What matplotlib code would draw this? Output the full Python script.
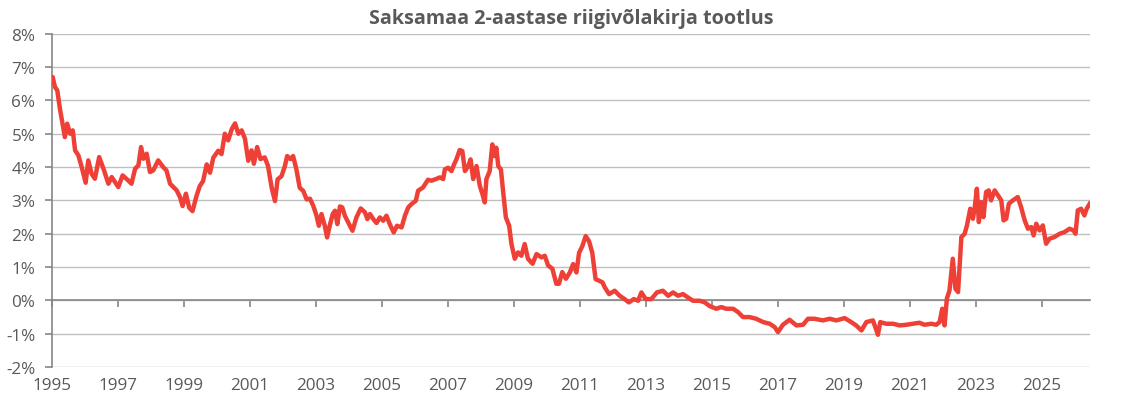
import matplotlib
matplotlib.use("Agg")
import matplotlib.pyplot as plt
from matplotlib.ticker import FuncFormatter

title = "Saksamaa 2-aastase riigivõlakirja tootlus"

years = [
    1995.00, 1995.02, 1995.09, 1995.16, 1995.24, 1995.39, 1995.46, 1995.55, 1995.63, 1995.70,
    1995.80, 1995.90, 1996.02, 1996.10, 1996.20, 1996.30, 1996.43, 1996.56, 1996.71, 1996.81,
    1997.01, 1997.14, 1997.31, 1997.41, 1997.52, 1997.62, 1997.70, 1997.77, 1997.87, 1997.97,
    1998.07, 1998.22, 1998.37, 1998.47, 1998.58, 1998.68, 1998.78, 1998.88, 1998.96, 1999.06,
    1999.16, 1999.26, 1999.38, 1999.48, 1999.58, 1999.69, 1999.79, 1999.89, 2000.04, 2000.14,
    2000.24, 2000.34, 2000.45, 2000.55, 2000.65, 2000.75, 2000.85, 2000.95, 2001.05, 2001.12,
    2001.22, 2001.32, 2001.45, 2001.55, 2001.66, 2001.76, 2001.84, 2001.96, 2002.06, 2002.13,
    2002.23, 2002.31, 2002.41, 2002.51, 2002.62, 2002.72, 2002.82, 2002.92, 2003.02, 2003.09,
    2003.17, 2003.27, 2003.34, 2003.42, 2003.51, 2003.58, 2003.65, 2003.73, 2003.80, 2003.88,
    2003.98, 2004.11, 2004.23, 2004.36, 2004.49, 2004.56, 2004.64, 2004.74, 2004.84, 2004.94,
    2005.04, 2005.14, 2005.24, 2005.36, 2005.46, 2005.60, 2005.70, 2005.80, 2005.90, 2006.03,
    2006.10, 2006.25, 2006.35, 2006.40, 2006.50, 2006.64, 2006.76, 2006.86, 2006.91, 2007.01,
    2007.11, 2007.19, 2007.26, 2007.36, 2007.44, 2007.52, 2007.62, 2007.69, 2007.77, 2007.87,
    2007.97, 2008.05, 2008.12, 2008.17, 2008.27, 2008.35, 2008.42, 2008.47, 2008.53, 2008.61,
    2008.68, 2008.76, 2008.86, 2008.93, 2009.03, 2009.13, 2009.23, 2009.33, 2009.43, 2009.57,
    2009.69, 2009.84, 2009.94, 2010.04, 2010.17, 2010.29, 2010.37, 2010.47, 2010.58, 2010.70,
    2010.80, 2010.90, 2010.98, 2011.08, 2011.18, 2011.28, 2011.38, 2011.48, 2011.59, 2011.69,
    2011.76, 2011.89, 2012.06, 2012.21, 2012.36, 2012.49, 2012.64, 2012.77, 2012.87, 2013.00,
    2013.17, 2013.34, 2013.52, 2013.68, 2013.83, 2013.98, 2014.13, 2014.28, 2014.43, 2014.64,
    2014.79, 2014.94, 2015.14, 2015.29, 2015.44, 2015.65, 2015.80, 2015.95, 2016.15, 2016.35,
    2016.56, 2016.76, 2016.91, 2017.01, 2017.16, 2017.36, 2017.57, 2017.77, 2017.92, 2018.12,
    2018.37, 2018.58, 2018.78, 2019.03, 2019.23, 2019.38, 2019.54, 2019.69, 2019.89, 2020.04,
    2020.11, 2020.29, 2020.50, 2020.70, 2020.90, 2021.10, 2021.30, 2021.45, 2021.66, 2021.81,
    2021.91, 2021.99, 2022.06, 2022.13, 2022.21, 2022.31, 2022.39, 2022.47, 2022.57, 2022.67,
    2022.74, 2022.84, 2022.92, 2022.97, 2023.04, 2023.10, 2023.17, 2023.24, 2023.32, 2023.40,
    2023.47, 2023.58, 2023.68, 2023.78, 2023.85, 2023.93, 2024.01, 2024.13, 2024.28, 2024.38,
    2024.49, 2024.59, 2024.69, 2024.76, 2024.84, 2024.94, 2025.04, 2025.14, 2025.24, 2025.39,
    2025.55, 2025.70, 2025.85, 2025.97, 2026.03, 2026.10, 2026.20, 2026.30, 2026.37, 2026.46,
]

yields = [
    6.60, 6.70, 6.40, 6.30, 5.75, 4.90, 5.30, 5.00, 5.10, 4.50,
    4.35, 4.00, 3.53, 4.20, 3.80, 3.65, 4.30, 3.95, 3.50, 3.70,
    3.40, 3.75, 3.60, 3.50, 3.95, 4.05, 4.60, 4.25, 4.40, 3.85,
    3.90, 4.20, 4.00, 3.90, 3.50, 3.40, 3.30, 3.10, 2.83, 3.20,
    2.78, 2.68, 3.13, 3.43, 3.58, 4.08, 3.83, 4.28, 4.49, 4.39,
    5.00, 4.80, 5.14, 5.31, 5.00, 5.10, 4.85, 4.19, 4.50, 4.10,
    4.60, 4.24, 4.29, 4.03, 3.38, 2.98, 3.63, 3.73, 4.03, 4.33,
    4.24, 4.33, 3.93, 3.38, 3.28, 3.03, 3.05, 2.84, 2.54, 2.24,
    2.59, 2.24, 1.89, 2.24, 2.59, 2.69, 2.29, 2.82, 2.79, 2.54,
    2.34, 2.09, 2.49, 2.76, 2.64, 2.44, 2.59, 2.44, 2.32, 2.49,
    2.39, 2.54, 2.29, 2.04, 2.24, 2.19, 2.54, 2.79, 2.89, 2.99,
    3.29, 3.39, 3.54, 3.62, 3.59, 3.64, 3.69, 3.64, 3.93, 3.98,
    3.88, 4.08, 4.23, 4.51, 4.48, 3.88, 4.03, 4.23, 3.64, 4.03,
    3.44, 3.19, 2.94, 3.64, 3.88, 4.68, 4.33, 4.58, 4.03, 3.93,
    3.24, 2.49, 2.24, 1.69, 1.25, 1.44, 1.34, 1.69, 1.25, 1.10,
    1.39, 1.29, 1.34, 1.05, 0.95, 0.50, 0.50, 0.85, 0.65, 0.84,
    1.09, 0.84, 1.43, 1.63, 1.93, 1.78, 1.43, 0.64, 0.59, 0.54,
    0.39, 0.19, 0.29, 0.14, 0.04, -0.06, 0.04, -0.01, 0.24, 0.04,
    0.04, 0.24, 0.29, 0.14, 0.24, 0.14, 0.19, 0.09, -0.01, -0.01,
    -0.06, -0.17, -0.25, -0.20, -0.25, -0.25, -0.35, -0.50, -0.50, -0.55,
    -0.65, -0.70, -0.80, -0.95, -0.73, -0.58, -0.75, -0.73, -0.55, -0.55,
    -0.60, -0.55, -0.60, -0.53, -0.65, -0.75, -0.90, -0.65, -0.60, -1.03,
    -0.65, -0.70, -0.70, -0.75, -0.73, -0.70, -0.67, -0.73, -0.70, -0.73,
    -0.65, -0.25, -0.75, 0.05, 0.30, 1.25, 0.35, 0.25, 1.90, 2.00,
    2.25, 2.75, 2.45, 2.75, 3.35, 2.35, 2.95, 2.50, 3.25, 3.30,
    3.00, 3.30, 3.15, 3.00, 2.40, 2.45, 2.90, 3.00, 3.10, 2.80,
    2.40, 2.15, 2.20, 1.95, 2.30, 2.10, 2.25, 1.70, 1.85, 1.90,
    2.00, 2.05, 2.15, 2.10, 2.00, 2.70, 2.75, 2.55, 2.75, 2.90,
]

tick_years = list(range(1995, 2027, 2))
y_ticks = list(range(-2, 9))

text_color = "#595959"
font = ["Open Sans", "DejaVu Sans"]
plt.rcParams["font.family"] = font

fig = plt.figure(figsize=(11.24, 4.06), dpi=100)
ax = fig.add_axes([52 / 1124, 37.9 / 406, (1090 - 52) / 1124, (367.7 - 34.3) / 406])

ax.plot(years, yields, color="#EE4036", linewidth=3.2, solid_joinstyle="round", zorder=3)

ax.set_xlim(1995, 2026.47)
ax.set_ylim(-2, 8)
ax.set_yticks(y_ticks)
ax.yaxis.set_major_formatter(FuncFormatter(lambda v, p: f"{int(v)}%".replace("\u2212", "-")))
ax.grid(axis="y", color="#BFBFBF", linewidth=1.0, zorder=0)
ax.set_axisbelow(True)

for s in ["top", "right"]:
    ax.spines[s].set_visible(False)
ax.spines["left"].set_color("#868686")
ax.spines["left"].set_linewidth(1.2)
ax.spines["bottom"].set_position(("data", 0))
ax.spines["bottom"].set_color("#868686")
ax.spines["bottom"].set_linewidth(1.2)
ax.spines["bottom"].set_zorder(2)

ax.set_xticks(tick_years)
ax.tick_params(axis="x", direction="out", length=5, width=1.2, color="#868686", labelbottom=False)
ax.tick_params(axis="y", direction="out", length=5, width=1.2, color="#868686",
               labelsize=12.3, labelcolor=text_color, pad=7)

sec = ax.secondary_xaxis("bottom")
sec.set_xticks(tick_years)
sec.set_xticklabels([str(y) for y in tick_years])
sec.tick_params(length=0, labelsize=12.3, labelcolor=text_color, pad=7)
sec.spines["bottom"].set_visible(False)

ax.set_title(title, fontsize=14.2, fontweight="bold", color=text_color, pad=8)

fig.savefig("out.png", dpi=100)
